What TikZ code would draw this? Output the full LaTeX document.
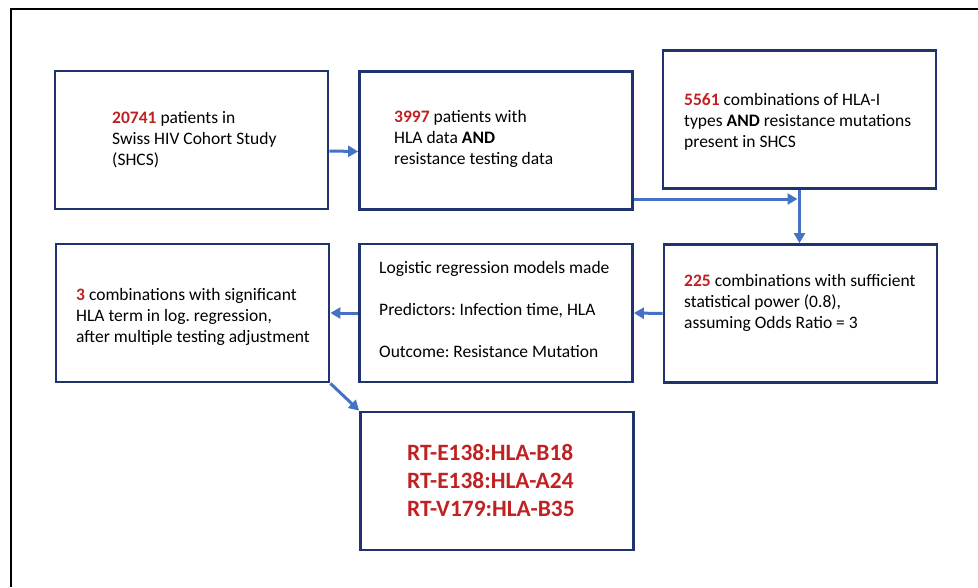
\documentclass[tikz,border=0pt]{standalone}
\usepackage{fontspec}
\setmainfont{Carlito}
\usetikzlibrary{arrows.meta}
\frenchspacing

\definecolor{rahmen}{RGB}{31,52,110}
\definecolor{pfeil}{RGB}{68,114,196}
\definecolor{zahl}{RGB}{192,33,33}

\tikzset{
  kasten/.style={draw=rahmen, line width=2.8pt, minimum width=273pt, minimum height=138pt, inner sep=0pt},
  txt/.style={anchor=west, align=left, inner sep=0pt, text=black, font=\fontsize{17.5}{21}\selectfont},
  fluss/.style={draw=pfeil, line width=3pt, -{Triangle[length=10pt,width=11pt]}},
}
\newcommand{\zahl}[1]{\textcolor{zahl}{\textbf{#1}}}

\begin{document}
\begin{tikzpicture}[x=1pt,y=-1pt]
\useasboundingbox (0,0) rectangle (978,587);

% Rahmen oben und links
\draw[line width=1.2pt] (11,587) -- (11,9) -- (978,9);

% obere Reihe
\node[kasten] (shcs) at (191.5,140) {};
\node[kasten] (hla) at (496,140.5) {};
\node[kasten] (kombi) at (799.5,119.5) {};

% untere Reihe
\node[kasten] (power) at (800.5,313.5) {};
\node[kasten] (logreg) at (496,313) {};
\node[kasten] (signif) at (192.5,313) {};

% Ergebnis
\node[kasten] (ergebnis) at (497,481) {};

% Texte
\node[txt] (shcsT) at (112,140) {\zahl{20741} patients in\\Swiss HIV Cohort Study\\(SHCS)};
\node[txt] (hlaT) at (394,139) {\zahl{3997} patients with\\HLA data \textbf{AND}\\resistance testing data};
\node[txt] (kombiT) at (684,122) {\zahl{5561} combinations of HLA-I\\types \textbf{AND} resistance mutations\\present in SHCS};
\node[txt] (powerT) at (684,303) {\zahl{225} combinations with sufficient\\statistical power (0.8),\\assuming Odds Ratio = 3};
\node[txt] (logregT) at (379,309) {Logistic regression models made\\[21pt]Predictors: Infection time, HLA\\[21pt]Outcome: Resistance Mutation};
\node[txt] (signifT) at (76,317) {\zahl{3} combinations with significant\\HLA term in log. regression,\\after multiple testing adjustment};
\node[txt, text=zahl, font=\fontsize{23.4}{28}\selectfont\bfseries] (ergebnisT) at (407,480) {RT-E138:HLA-B18\\RT-E138:HLA-A24\\RT-V179:HLA-B35};

% Pfeile
\draw[fluss] ([yshift=-11pt]shcs.east) -- ([yshift=-11pt]hla.west);
\draw[fluss] ([yshift=-58.5pt]hla.east) -- ([yshift=-58.5pt,xshift=-2pt]hla.east -| kombi.south);
\draw[fluss] (kombi.south) -- (kombi.south |- power.north);
\draw[fluss] (power.west) -- (logreg.east);
\draw[fluss] (logreg.west) -- (signif.east);
\draw[fluss] (signif.south east) -- (ergebnis.north west);

\end{tikzpicture}
\end{document}
